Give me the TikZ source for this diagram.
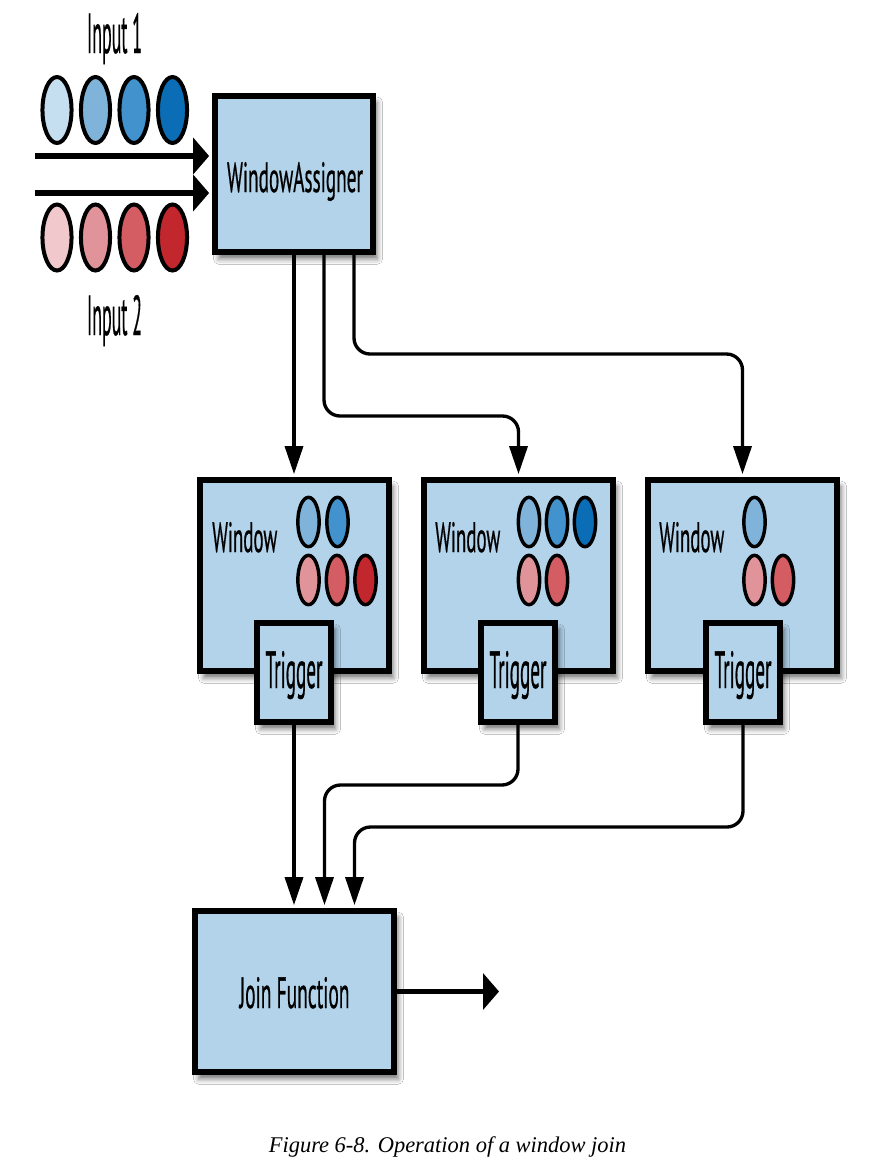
\documentclass[tikz,border=0pt]{standalone}
\usepackage{fontspec}
\usepackage{graphicx}
\newfontfamily\lblfont{PT Sans}[FakeBold=0.8]
\newfontfamily\capfont{Liberation Serif}
\usetikzlibrary{arrows.meta,shadows.blur,calc}
\definecolor{boxblue}{HTML}{B2D3EA}
\definecolor{bA}{HTML}{C5DEF0}
\definecolor{bB}{HTML}{80B3DA}
\definecolor{bC}{HTML}{4192CD}
\definecolor{bD}{HTML}{0A6DB6}
\definecolor{rA}{HTML}{F1C9CC}
\definecolor{rB}{HTML}{E0949A}
\definecolor{rC}{HTML}{D35D63}
\definecolor{rD}{HTML}{C1272D}
\newcommand{\lbl}[3]{\resizebox{#1}{#2}{\lblfont #3}}
\tikzset{
  box/.style={rectangle, draw=black, line width=4.4pt, fill=boxblue, inner sep=0pt,
    blur shadow={shadow xshift=3pt, shadow yshift=-5pt, shadow blur radius=4pt, shadow opacity=55}},
  lab/.style={inner sep=0pt, anchor=base},
  flow/.style={line width=2.5pt, -{Triangle[length=21pt,width=13.5pt]}, rounded corners=12pt, shorten >=2pt},
  feed/.style={line width=4.4pt, -{Triangle[length=12pt,width=27pt]}},
  ball/.style={line width=2.6pt, draw=black},
  bigball/.style={line width=3pt, draw=black},
}
\begin{document}
\begin{tikzpicture}[x=0.75pt,y=-0.75pt]
\fill[white] (0,0) rectangle (884,1164);
\useasboundingbox (0,0) rectangle (884,1164);

% boxes
\node[box, minimum width=118.9pt, minimum height=117.4pt] (wa) at (294,174) {};
\node[box, minimum width=142.1pt, minimum height=143.6pt] (w1) at (294.5,575.5) {};
\node[box, minimum width=142.1pt, minimum height=143.6pt] (w2) at (518.5,575.5) {};
\node[box, minimum width=142.1pt, minimum height=143.6pt] (w3) at (742.5,575.5) {};
\node[box, minimum width=55.9pt, minimum height=74.6pt] (t1) at (294,672.5) {};
\node[box, minimum width=55.9pt, minimum height=74.6pt] (t2) at (518,672.5) {};
\node[box, minimum width=55.9pt, minimum height=74.6pt] (t3) at (743,672.5) {};
\node[box, minimum width=149.6pt, minimum height=121.1pt] (j) at (294.5,991.5) {};

% labels
\node[lab] (in1) at (114.5,53) {\lbl{41.25pt}{30pt}{Input 1}};
\node[lab] (in2) at (114.5,335) {\lbl{41.25pt}{30pt}{Input 2}};
\node[lab] (walbl) at (295,192) {\lbl{102pt}{22.5pt}{WindowAssigner}};
\node[lab, anchor=base west] (w1lbl) at (212,552) {\lbl{48.75pt}{22.5pt}{Window}};
\node[lab, anchor=base west] (w2lbl) at (435,552) {\lbl{48.75pt}{22.5pt}{Window}};
\node[lab, anchor=base west] (w3lbl) at (659,552) {\lbl{48.75pt}{22.5pt}{Window}};
\node[lab] (t1lbl) at (294,688) {\lbl{42.75pt}{27.75pt}{Trigger}};
\node[lab] (t2lbl) at (518,688) {\lbl{42.75pt}{27.75pt}{Trigger}};
\node[lab] (t3lbl) at (743,688) {\lbl{42.75pt}{27.75pt}{Trigger}};
\node[lab] (jlbl) at (294.5,1008) {\lbl{82.5pt}{23.25pt}{Join Function}};
\node[lab] (cap) at (447.5,1152) {\resizebox{268pt}{!}{\capfont\itshape Figure 6-8. Operation of a window join}};

% input balls
\foreach \c/\x in {bA/57,bB/95.5,bC/134,bD/172.5}
  \filldraw[bigball, fill=\c] (\x,110) ellipse [x radius=10.9pt, y radius=24.75pt];
\foreach \c/\x in {rA/57,rB/95.5,rC/134,rD/172.5}
  \filldraw[bigball, fill=\c] (\x,237.5) ellipse [x radius=10.9pt, y radius=24.75pt];

% window balls
\foreach \c/\x/\y in {bB/308.5/522, bC/337.5/522, rB/308.5/580, rC/337/580, rD/365.5/580,
                      bB/529/522, bC/557/522, bD/585/522, rB/529/580, rC/557/580,
                      bB/754.5/522, rB/754.5/580, rC/783/580}
  \filldraw[ball, fill=\c] (\x,\y) ellipse [x radius=8pt, y radius=18.5pt];

% input arrows
\coordinate (s1) at (35,156);
\coordinate (s2) at (35,193);
\draw[feed, shorten >=2pt] (s1) -- (wa.west |- s1);
\draw[feed, shorten >=2pt] (s2) -- (wa.west |- s2);

% assigner to windows
\coordinate (a2) at ($(wa.south)+(30,0)$);
\coordinate (a3) at ($(wa.south)+(60,0)$);
\draw[flow] (wa.south) -- (wa.south |- w1.north);
\draw[flow] (a2) -- (a2 |- 0,416) -- (w2.north |- 0,416) -- (w2.north);
\draw[flow] (a3) -- (a3 |- 0,354) -- (w3.north |- 0,354) -- (w3.north);

% triggers to join
\coordinate (b2) at ($(j.north)+(30,0)$);
\coordinate (b3) at ($(j.north)+(60,0)$);
\draw[flow] (t1.south) -- (t1.south |- j.north);
\draw[flow] (t2.south) -- (t2.south |- 0,785) -- (b2 |- 0,785) -- (b2);
\draw[flow] (t3.south) -- (t3.south |- 0,827) -- (b3 |- 0,827) -- (b3);

% output
\coordinate (o) at (499,991.5);
\draw[feed] (j.east) -- (o);
\end{tikzpicture}
\end{document}
